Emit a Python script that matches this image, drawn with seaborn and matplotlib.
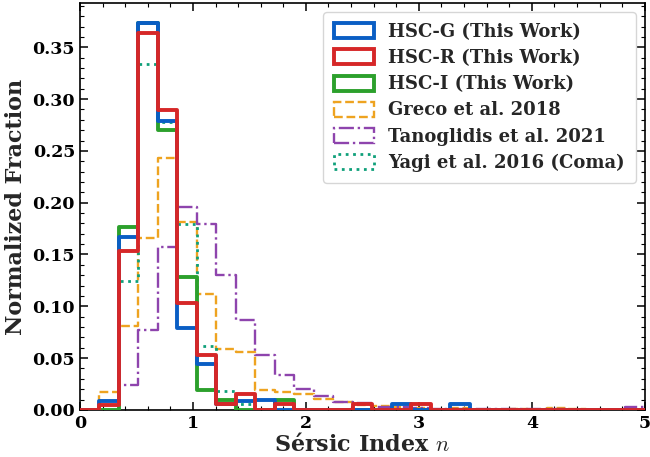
import numpy as np
import pandas as pd
import matplotlib
matplotlib.use("Agg")
import matplotlib.pyplot as plt
from matplotlib.patches import Patch
from matplotlib.ticker import MultipleLocator, FormatStrFormatter
import seaborn as sns

# Sersic-index binning shared by all samples
bin_edges = list(np.linspace(0, 5, 30))

# Normalized fraction per bin (29 bins from 0 to 5)
hsc_g = [0, 0.009, 0.167, 0.373, 0.279, 0.079, 0.044, 0.0055, 0.009, 0.0096,
         0, 0, 0, 0, 0, 0, 0.0055, 0, 0, 0.0055, 0, 0, 0, 0, 0, 0, 0, 0, 0]
hsc_r = [0, 0.005, 0.153, 0.364, 0.289, 0.103, 0.053, 0.0055, 0.015, 0,
         0.0055, 0, 0, 0, 0.0055, 0, 0, 0.0055, 0, 0, 0, 0, 0, 0, 0, 0, 0, 0, 0]
hsc_i = [0, 0, 0.177, 0.373, 0.270, 0.128, 0.019, 0.0096, 0.0, 0,
         0.0096, 0, 0, 0, 0, 0, 0, 0, 0, 0, 0, 0, 0, 0, 0, 0, 0, 0, 0]
greco = [0, 0.017, 0.081, 0.166, 0.243, 0.181, 0.112, 0.059, 0.056, 0.019,
         0.017, 0.0155, 0.011, 0.008, 0.005, 0.004, 0.003, 0.002, 0, 0.002,
         0, 0, 0.001, 0, 0.002, 0.001, 0, 0, 0]
tanoglidis = [0, 0, 0.024, 0.077, 0.157, 0.196, 0.179, 0.130, 0.087, 0.053,
              0.034, 0.020, 0.0135, 0.008, 0.0065, 0.003, 0.0025, 0.002, 0.001, 0.001,
              0.001, 0.001, 0.001, 0.001, 0.001, 0, 0, 0, 0.003]
yagi = [0, 0, 0.124, 0.334, 0.278, 0.179, 0.062, 0.0186, 0.0058, 0,
        0, 0, 0, 0, 0, 0, 0, 0, 0, 0, 0, 0, 0, 0, 0, 0, 0, 0, 0]

labels = ["HSC-G (This Work)", "HSC-R (This Work)", "HSC-I (This Work)",
          "Greco et al. 2018", "Tanoglidis et al. 2021", "Yagi et al. 2016 (Coma)"]
series = [hsc_g, hsc_r, hsc_i, greco, tanoglidis, yagi]
colors = ["#0a5ec4", "#d62728", "#2ca02c", "#eea320", "#8e44ad", "#0fa07a"]
styles = ["-", "-", "-", "--", "-.", ":"]
widths = [2.8, 2.8, 2.8, 1.7, 1.7, 2.0]
zorders = [4, 5, 3, 2, 2, 2]

sns.set_style("white")
plt.rcParams["font.family"] = ["DejaVu Serif"]
plt.rcParams["font.weight"] = "bold"
plt.rcParams["mathtext.fontset"] = "cm"

fig = plt.figure(figsize=(6.5, 4.57), dpi=100)
ax = fig.add_axes([0.123, 0.103, 0.869, 0.890])

centers = [0.5 * (a + b) for a, b in zip(bin_edges[:-1], bin_edges[1:])]
for vals, lab, col, ls, lw, zo in zip(series, labels, colors, styles, widths, zorders):
    df = pd.DataFrame({"n": centers, "w": vals})
    sns.histplot(data=df, x="n", weights="w", bins=bin_edges, element="step",
                 fill=False, color=col, linestyle=ls, linewidth=lw, zorder=zo, ax=ax)

ax.set_xlim(0, 5)
ax.set_ylim(0, 0.3925)
ax.xaxis.set_major_locator(MultipleLocator(1))
ax.xaxis.set_minor_locator(MultipleLocator(0.2))
ax.yaxis.set_major_locator(MultipleLocator(0.05))
ax.yaxis.set_minor_locator(MultipleLocator(0.01))
ax.yaxis.set_major_formatter(FormatStrFormatter("%.2f"))
ax.tick_params(which="both", direction="in", top=True, right=True,
               bottom=True, left=True, colors="black")
ax.tick_params(which="major", length=6, width=1.1, labelsize=12.5)
ax.tick_params(which="minor", length=3, width=0.8)
for lab in ax.get_xticklabels() + ax.get_yticklabels():
    lab.set_fontweight("bold")
for sp in ax.spines.values():
    sp.set_color("black")
    sp.set_linewidth(1.2)

ax.set_xlabel("Sérsic Index $n$", fontsize=16, fontweight="bold", labelpad=1)
ax.set_ylabel("Normalized Fraction", fontsize=16, fontweight="bold", labelpad=4)

handles = [Patch(facecolor="none", edgecolor=c, linestyle=ls, linewidth=lw)
           for c, ls, lw in zip(colors, styles, widths)]
ax.legend(handles, labels, loc="upper right",
          prop={"weight": "bold", "size": 13}, frameon=True, framealpha=0.8,
          edgecolor="#cccccc", borderpad=0.6, labelspacing=0.45,
          handlelength=2.2, handleheight=0.9, handletextpad=0.8)

fig.savefig("out.png", dpi=100)
